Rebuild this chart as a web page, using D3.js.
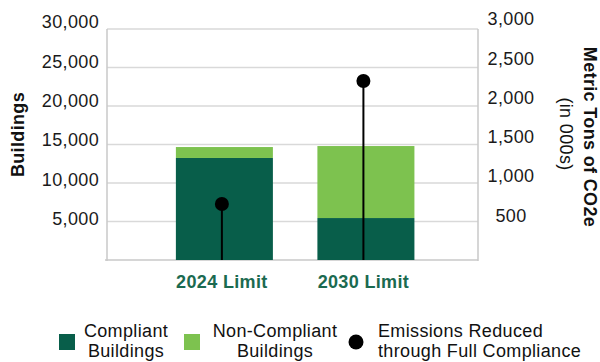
<!DOCTYPE html>
<html><head><meta charset="utf-8">
<script src="https://cdn.jsdelivr.net/npm/d3@7/dist/d3.min.js"></script>
<style>
html,body{margin:0;padding:0;background:#fff;}
svg{display:block;font-family:"Liberation Sans",Arial,sans-serif;}
text{letter-spacing:0.35px;}
</style></head>
<body>
<svg id="c" width="600" height="362"></svg>
<script>
const categories = ["2024 Limit", "2030 Limit"];
const compliant = [13250, 5450];
const nonCompliant = [1420, 9350];
const emissions = [727, 2325];
const leftTicks = [5000, 10000, 15000, 20000, 25000, 30000];
const rightTicks = [500, 1000, 1500, 2000, 2500, 3000];

const svg = d3.select("#c");
const L = 107, R = 478, T = 29, B = 260;

const x = d3.scaleBand().domain(categories).range([L, R]).paddingInner(0.3145).paddingOuter(0.468).align(0.52);
const yL = d3.scaleLinear().domain([0, 30000]).range([B, T]);
const yR = d3.scaleLinear().domain([0, 3000]).range([B, T]);
// label placement scales (labels sit slightly above gridlines in reference)
const yLlab = d3.scaleLinear().domain([0, 30000]).range([258, 22]);
const yRlab = d3.scaleLinear().domain([0, 3000]).range([254.5, 19]);

// gridlines
svg.append("g").selectAll("line").data(leftTicks).join("line")
  .attr("x1", L).attr("x2", R).attr("y1", d => yL(d)).attr("y2", d => yL(d))
  .attr("stroke", "#d9d9d9").attr("stroke-width", 1.5);

// axes lines
svg.append("line").attr("x1", L).attr("x2", L).attr("y1", T).attr("y2", B + 1).attr("stroke", "#c8c8c8").attr("stroke-width", 1.5);
svg.append("line").attr("x1", R).attr("x2", R).attr("y1", T).attr("y2", B + 1).attr("stroke", "#c8c8c8").attr("stroke-width", 1.5);
svg.append("line").attr("x1", L - 2).attr("x2", R).attr("y1", B).attr("y2", B).attr("stroke", "#c8c8c8").attr("stroke-width", 1.5);

// bars
const g = svg.append("g");
g.selectAll("rect.c").data(categories).join("rect").attr("class", "c")
  .attr("x", d => x(d)).attr("width", x.bandwidth())
  .attr("y", (d, i) => yL(compliant[i])).attr("height", (d, i) => B - yL(compliant[i]))
  .attr("fill", "#085e4a");
g.selectAll("rect.n").data(categories).join("rect").attr("class", "n")
  .attr("x", d => x(d)).attr("width", x.bandwidth())
  .attr("y", (d, i) => yL(compliant[i] + nonCompliant[i])).attr("height", (d, i) => yL(compliant[i]) - yL(compliant[i] + nonCompliant[i]))
  .attr("fill", "#7dc24f");

// lollipops
const cx = d => x(d) + x.bandwidth() / 2 - 2.5;
g.selectAll("line.s").data(categories).join("line").attr("class", "s")
  .attr("x1", cx).attr("x2", cx).attr("y1", (d, i) => yR(emissions[i])).attr("y2", B)
  .attr("stroke", "#000").attr("stroke-width", 2);
g.selectAll("circle").data(categories).join("circle")
  .attr("cx", cx).attr("cy", (d, i) => yR(emissions[i])).attr("r", 7).attr("fill", "#000");

// tick labels
svg.append("g").selectAll("text").data(leftTicks).join("text")
  .attr("x", 99).attr("y", d => yLlab(d)).attr("dy", "0.35em").attr("text-anchor", "end")
  .attr("font-size", 18).attr("fill", "#1a1a1a").text(d => d3.format(",")(d));
svg.append("g").selectAll("text").data(rightTicks).join("text")
  .attr("x", 511).attr("y", d => yRlab(d)).attr("dy", "0.35em").attr("text-anchor", "middle")
  .attr("font-size", 18).attr("fill", "#1a1a1a").text(d => d3.format(",")(d));

// category labels
svg.append("g").selectAll("text").data(categories).join("text")
  .attr("x", d => cx(d)).attr("y", 288).attr("text-anchor", "middle")
  .attr("font-size", 18).attr("font-weight", "bold").attr("fill", "#1b6a50").text(d => d);

// axis titles
svg.append("text").attr("transform", "translate(24,134.5) rotate(-90)").attr("text-anchor", "middle")
  .attr("font-size", 18).attr("font-weight", "bold").attr("fill", "#111").text("Buildings");
svg.append("text").attr("transform", "translate(583.5,137) rotate(90)").attr("text-anchor", "middle")
  .attr("font-size", 18).attr("font-weight", "bold").attr("fill", "#111").text("Metric Tons of CO2e");
svg.append("text").attr("transform", "translate(559.5,134) rotate(90)").attr("text-anchor", "middle")
  .attr("font-size", 18).attr("fill", "#111").text("(in 000s)");

// legend
const lg = svg.append("g").attr("font-size", 18).attr("fill", "#111");
lg.append("rect").attr("x", 59).attr("y", 334).attr("width", 16).attr("height", 16).attr("fill", "#085e4a");
lg.append("rect").attr("x", 184).attr("y", 334).attr("width", 16).attr("height", 16).attr("fill", "#7dc24f");
lg.append("circle").attr("cx", 356).attr("cy", 342).attr("r", 7.5).attr("fill", "#000");
const legendText = [
  {x: 126, anchor: "middle", lines: ["Compliant", "Buildings"]},
  {x: 275, anchor: "middle", lines: ["Non-Compliant", "Buildings"]},
  {x: 378, anchor: "start", lines: ["Emissions Reduced", "through Full Compliance"]}
];
legendText.forEach(t => {
  t.lines.forEach((s, i) => {
    lg.append("text").attr("x", t.x).attr("y", 337 + i * 20).attr("text-anchor", t.anchor).text(s);
  });
});
</script>
</body></html>
